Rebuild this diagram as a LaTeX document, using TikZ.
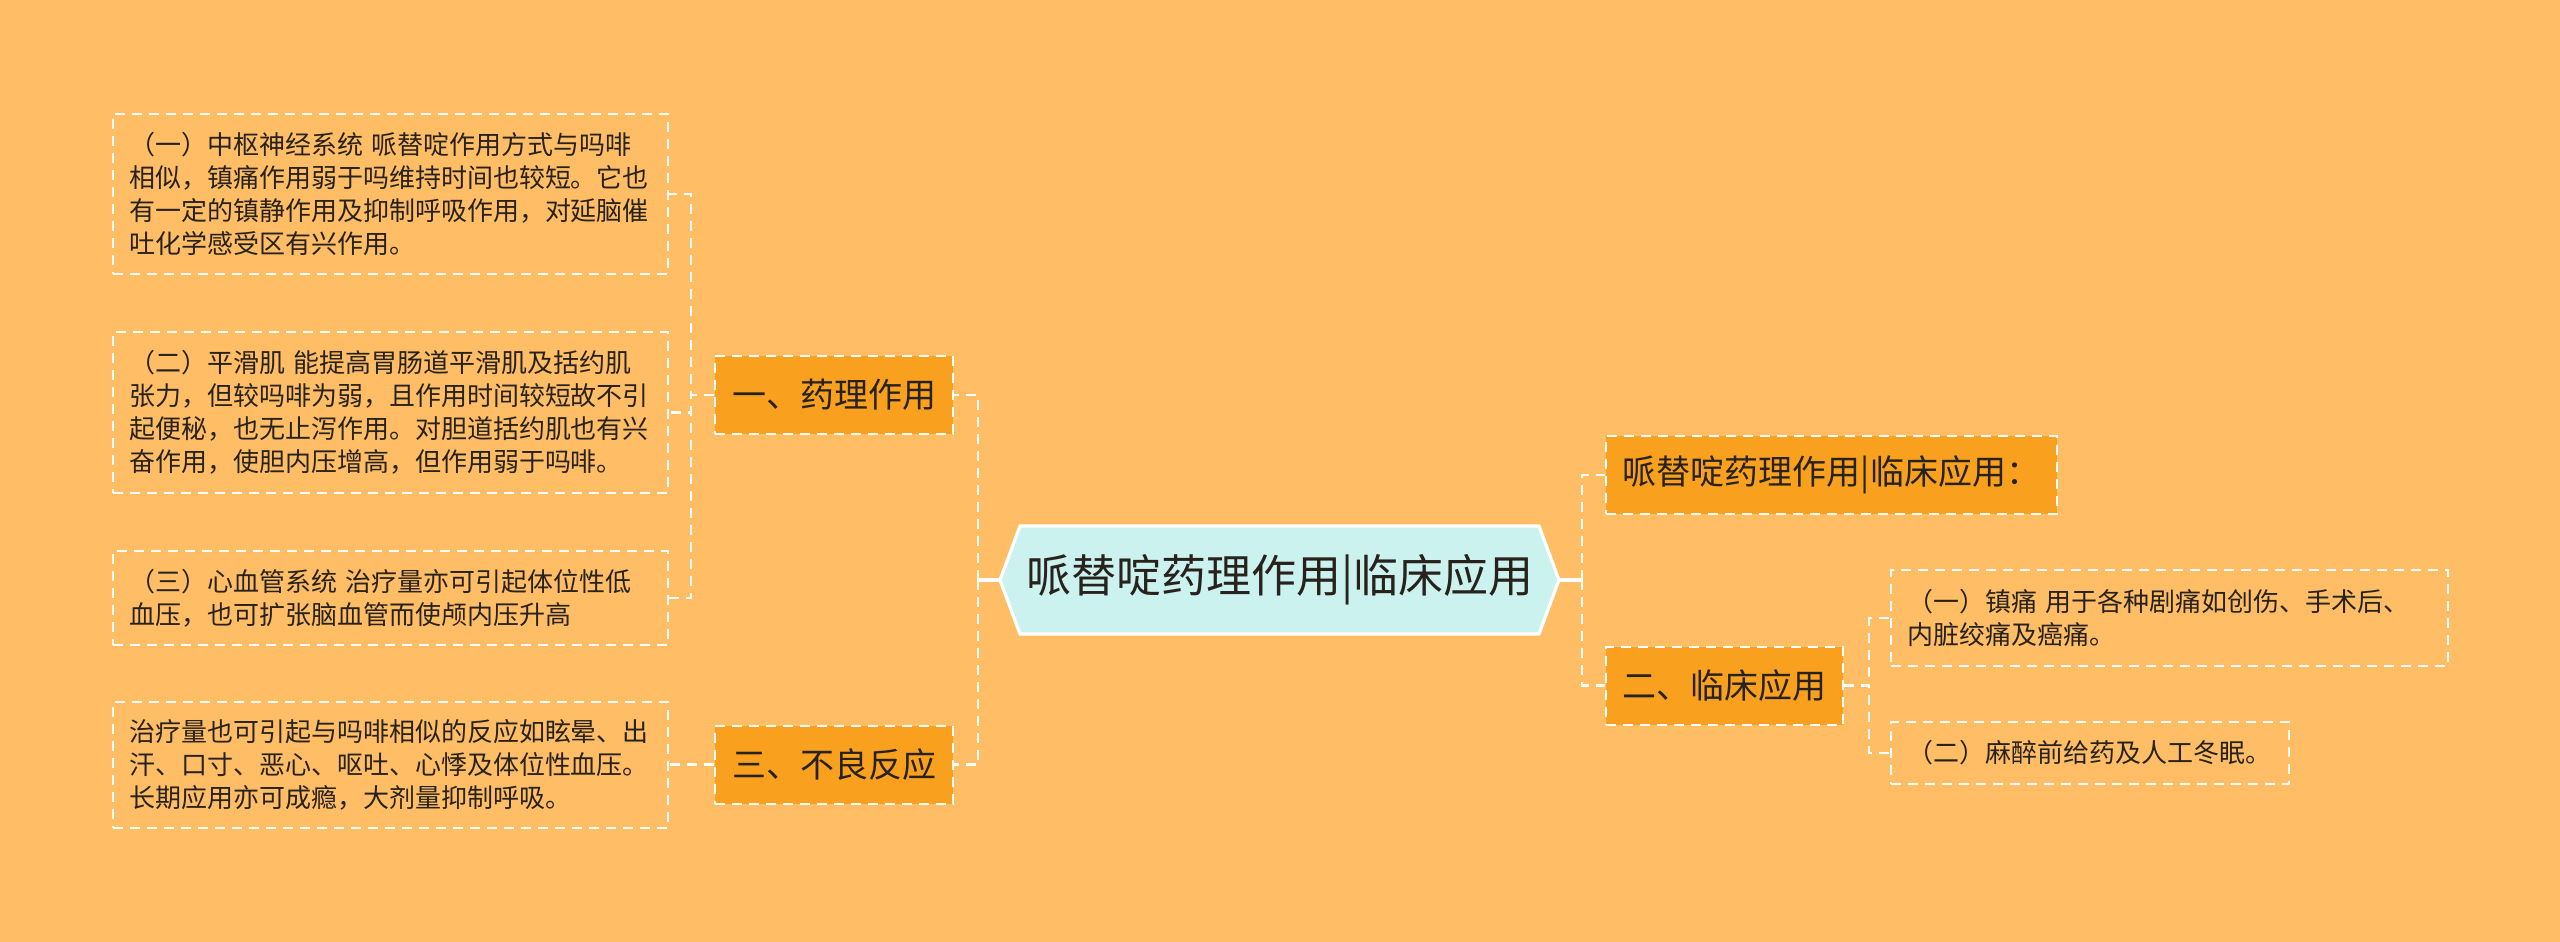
\documentclass[tikz,border=0pt]{standalone}
\usepackage{fontspec}
\setmainfont{Noto Sans CJK SC}
\usetikzlibrary{calc}
\definecolor{bgc}{RGB}{255,190,102}
\definecolor{brc}{RGB}{249,161,31}
\definecolor{cenc}{RGB}{204,242,240}
\definecolor{txc}{RGB}{40,34,28}
\begin{document}
\begin{tikzpicture}[x=0.5pt,y=-0.5pt,
  every node/.style={text=txc},
  link/.style={draw=white, line width=1.3pt, dash pattern=on 5pt off 3.5pt},
  solidlink/.style={draw=white, line width=1.6pt},
  leafbox/.style={draw=white, line width=1pt, dash pattern=on 5pt off 3.5pt, inner xsep=8pt, inner ysep=0pt, align=left, font=\fontsize{13}{16.5}\selectfont},
  branch/.style={fill=brc, draw=white, line width=1pt, dash pattern=on 5pt off 3.5pt, inner xsep=0pt, inner ysep=0pt, minimum height=39pt, font=\fontsize{17}{20}\selectfont}
]
\fill[bgc] (0,0) rectangle (2560,942);
% central hexagon
\coordinate (cL) at (1000,580);
\coordinate (cR) at (1559,580);
\filldraw[fill=cenc, draw=white, line width=1.6pt] (cL) -- (1020,526) -- (1539,526) -- (cR) -- (1539,634) -- (1020,634) -- cycle;
\node[font=\fontsize{22.5}{26}\selectfont] (c) at (1280,580) {哌替啶药理作用|临床应用};
% left leaves
\node[leafbox, text width=261.5pt, minimum height=80pt] (l1) at (390.5,194) {（一）中枢神经系统 哌替啶作用方式与吗啡\\相似，镇痛作用弱于吗维持时间也较短。它也\\有一定的镇静作用及抑制呼吸作用，对延脑催\\吐化学感受区有兴作用。};
\node[leafbox, text width=261.5pt, minimum height=80.5pt] (l2) at (390.5,412.5) {（二）平滑肌 能提高胃肠道平滑肌及括约肌\\张力，但较吗啡为弱，且作用时间较短故不引\\起便秘，也无止泻作用。对胆道括约肌也有兴\\奋作用，使胆内压增高，但作用弱于吗啡。};
\node[leafbox, text width=261.5pt, minimum height=47pt] (l3) at (390.5,598) {（三）心血管系统 治疗量亦可引起体位性低\\血压，也可扩张脑血管而使颅内压升高};
\node[leafbox, text width=261.5pt, minimum height=63pt] (l4) at (390.5,764.5) {治疗量也可引起与吗啡相似的反应如眩晕、出\\汗、口寸、恶心、呕吐、心悸及体位性血压。\\长期应用亦可成瘾，大剂量抑制呼吸。};
% branches
\node[branch, minimum width=119pt] (b1) at (834,395) {一、药理作用};
\node[branch, minimum width=119pt] (b3) at (834,764.5) {三、不良反应};
\node[branch, minimum width=225.5pt] (r1) at (1831.5,475) {哌替啶药理作用|临床应用：};
\node[branch, minimum width=118.5pt] (r2) at (1724.5,685.5) {二、临床应用};
% right leaves
\node[leafbox, text width=262.5pt, minimum height=48pt] (rl1) at (2169.5,618) {（一）镇痛 用于各种剧痛如创伤、手术后、\\内脏绞痛及癌痛。};
\node[leafbox, text width=183pt, minimum height=31pt] (rl2) at (2090,753) {（二）麻醉前给药及人工冬眠。};
% connectors
\draw[solidlink] (cL) -- ++(-22,0) coordinate (jL);
\draw[link] (jL) |- (b1.east);
\draw[link] (jL) |- (b3.east);
\draw[link] (b1.west) -- ++(-23,0) |- (l1.east);
\draw[link] (b1.west) -- ++(-23,0) |- (l2.east);
\draw[link] (b1.west) -- ++(-23,0) |- (l3.east);
\draw[link] (b3.west) -- (l4.east);
\draw[solidlink] (cR) -- ++(23,0) coordinate (jR);
\draw[link] (jR) |- (r1.west);
\draw[link] (jR) |- (r2.west);
\draw[link] (r2.east) -- ++(25,0) |- (rl1.west);
\draw[link] (r2.east) -- ++(25,0) |- (rl2.west);
\end{tikzpicture}
\end{document}
